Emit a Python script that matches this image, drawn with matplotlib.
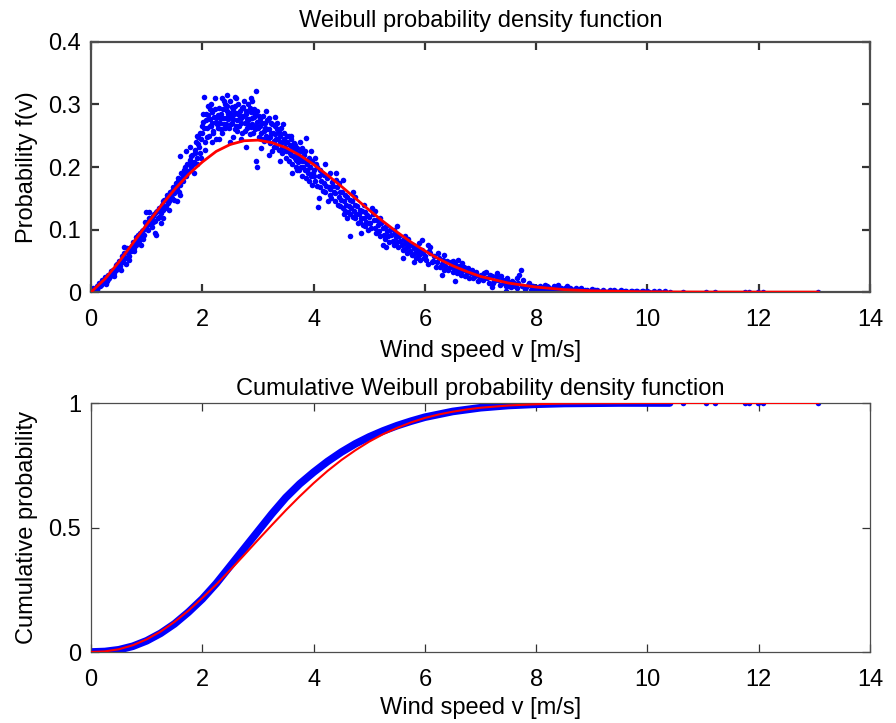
import matplotlib
matplotlib.use('Agg')
import matplotlib.pyplot as plt
import numpy as np

plt.rcParams['font.family'] = ['Liberation Sans', 'DejaVu Sans']

pts_0_1 = [(0.02, 0.001), (0.05, 0.004), (0.08, 0.003), (0.10, 0.009), (0.13, 0.008), (0.15, 0.014),
           (0.18, 0.011), (0.20, 0.019), (0.22, 0.015), (0.25, 0.024), (0.28, 0.018), (0.30, 0.028),
           (0.33, 0.022), (0.35, 0.033), (0.38, 0.027), (0.40, 0.036), (0.42, 0.030), (0.45, 0.043),
           (0.48, 0.038), (0.50, 0.050), (0.52, 0.042), (0.55, 0.058), (0.58, 0.048), (0.60, 0.062),
           (0.63, 0.055), (0.65, 0.070), (0.68, 0.058), (0.70, 0.071), (0.72, 0.066), (0.75, 0.080),
           (0.78, 0.071), (0.80, 0.088), (0.83, 0.078), (0.85, 0.083), (0.88, 0.095), (0.90, 0.089),
           (0.93, 0.100), (0.95, 0.092), (0.98, 0.105),
           (0.04, 0.006), (0.07, 0.002), (0.11, 0.004), (0.16, 0.009), (0.19, 0.016), (0.23, 0.020),
           (0.27, 0.013), (0.31, 0.021), (0.34, 0.026), (0.37, 0.031), (0.41, 0.025), (0.44, 0.035),
           (0.47, 0.045), (0.53, 0.036), (0.56, 0.050), (0.59, 0.056), (0.62, 0.045), (0.66, 0.063),
           (0.69, 0.052), (0.73, 0.074), (0.77, 0.065), (0.81, 0.075), (0.84, 0.092), (0.87, 0.082),
           (0.91, 0.097), (0.94, 0.085), (0.97, 0.112), (0.90, 0.075), (0.60, 0.072)]
pts_1_2 = [(1.00, 0.112), (1.02, 0.100), (1.05, 0.118), (1.07, 0.108), (1.10, 0.104), (1.12, 0.122),
           (1.15, 0.113), (1.17, 0.128), (1.20, 0.118), (1.22, 0.135), (1.25, 0.126), (1.27, 0.140),
           (1.30, 0.131), (1.32, 0.148), (1.35, 0.138), (1.37, 0.155), (1.40, 0.145), (1.42, 0.160),
           (1.45, 0.151), (1.47, 0.168), (1.50, 0.158), (1.52, 0.175), (1.55, 0.165), (1.57, 0.182),
           (1.60, 0.172), (1.62, 0.190), (1.65, 0.178), (1.67, 0.196), (1.70, 0.186), (1.72, 0.205),
           (1.75, 0.193), (1.77, 0.212), (1.80, 0.200), (1.82, 0.220), (1.85, 0.208), (1.87, 0.228),
           (1.90, 0.215), (1.92, 0.236), (1.95, 0.222), (1.97, 0.245), (0.99, 0.128), (1.17, 0.091),
           (1.15, 0.095), (1.30, 0.118), (1.59, 0.217), (1.60, 0.155), (1.70, 0.225), (1.85, 0.190),
           (1.90, 0.250), (1.05, 0.128), (1.40, 0.132), (1.78, 0.232),
           (1.03, 0.109), (1.08, 0.115), (1.11, 0.112), (1.14, 0.125), (1.19, 0.130), (1.23, 0.120),
           (1.26, 0.133), (1.29, 0.145), (1.33, 0.135), (1.36, 0.150), (1.38, 0.142), (1.43, 0.152),
           (1.46, 0.162), (1.49, 0.148), (1.53, 0.168), (1.56, 0.178), (1.58, 0.160), (1.63, 0.182),
           (1.66, 0.188), (1.69, 0.200), (1.73, 0.190), (1.76, 0.205), (1.79, 0.218), (1.83, 0.205),
           (1.86, 0.222), (1.88, 0.240), (1.91, 0.205), (1.94, 0.232), (1.96, 0.255), (1.98, 0.215),
           (1.99, 0.265), (1.93, 0.248), (1.55, 0.145), (1.25, 0.110)]
pts_2_3 = [(2.00, 0.255), (2.02, 0.272), (2.04, 0.240), (2.06, 0.285), (2.08, 0.262), (2.10, 0.298),
           (2.12, 0.250), (2.14, 0.276), (2.16, 0.265), (2.18, 0.288), (2.20, 0.258), (2.22, 0.310),
           (2.24, 0.272), (2.26, 0.280), (2.28, 0.262), (2.30, 0.295), (2.32, 0.270), (2.34, 0.285),
           (2.36, 0.255), (2.38, 0.278), (2.40, 0.300), (2.42, 0.268), (2.44, 0.290), (2.46, 0.276),
           (2.48, 0.262), (2.50, 0.305), (2.52, 0.282), (2.54, 0.270), (2.56, 0.293), (2.58, 0.260),
           (2.60, 0.286), (2.62, 0.275), (2.64, 0.300), (2.66, 0.265), (2.68, 0.290), (2.70, 0.278),
           (2.72, 0.255), (2.74, 0.296), (2.76, 0.270), (2.78, 0.285), (2.80, 0.262), (2.82, 0.300),
           (2.84, 0.276), (2.86, 0.252), (2.88, 0.288), (2.90, 0.268), (2.92, 0.280), (2.94, 0.260),
           (2.96, 0.322), (2.98, 0.272), (2.25, 0.245), (2.55, 0.248), (2.70, 0.244), (2.35, 0.310),
           (2.05, 0.228), (2.15, 0.300), (2.45, 0.315), (2.60, 0.310), (2.90, 0.305), (2.75, 0.305),
           (2.79, 0.232), (2.03, 0.312), (2.13, 0.265), (2.29, 0.283), (2.41, 0.262), (2.53, 0.296),
           (2.67, 0.282), (2.83, 0.268), (2.93, 0.292), (2.47, 0.285),
           (2.01, 0.285), (2.03, 0.262), (2.07, 0.275), (2.09, 0.248), (2.11, 0.283), (2.13, 0.292),
           (2.17, 0.271), (2.19, 0.255), (2.21, 0.280), (2.23, 0.292), (2.27, 0.268), (2.31, 0.278),
           (2.33, 0.260), (2.37, 0.292), (2.39, 0.268), (2.43, 0.279), (2.45, 0.298), (2.49, 0.287),
           (2.51, 0.268), (2.55, 0.276), (2.57, 0.284), (2.59, 0.298), (2.61, 0.265), (2.63, 0.258),
           (2.65, 0.285), (2.69, 0.270), (2.71, 0.295), (2.73, 0.282), (2.77, 0.258), (2.79, 0.290),
           (2.81, 0.276), (2.85, 0.295), (2.87, 0.264), (2.89, 0.278), (2.91, 0.255), (2.95, 0.284),
           (2.97, 0.265), (2.99, 0.290), (2.18, 0.240), (2.39, 0.305), (2.58, 0.312), (2.88, 0.310),
           (2.30, 0.245), (2.50, 0.240)]
pts_3_4 = [(3.00, 0.262), (3.02, 0.248), (3.04, 0.276), (3.06, 0.255), (3.08, 0.270), (3.10, 0.242),
           (3.12, 0.262), (3.14, 0.250), (3.16, 0.275), (3.18, 0.245), (3.20, 0.260), (3.22, 0.238),
           (3.24, 0.255), (3.26, 0.268), (3.28, 0.242), (3.30, 0.252), (3.32, 0.232), (3.34, 0.260),
           (3.36, 0.245), (3.38, 0.228), (3.40, 0.250), (3.42, 0.238), (3.44, 0.222), (3.46, 0.245),
           (3.48, 0.232), (3.50, 0.215), (3.52, 0.240), (3.54, 0.226), (3.56, 0.210), (3.58, 0.235),
           (3.60, 0.220), (3.62, 0.205), (3.64, 0.228), (3.66, 0.214), (3.68, 0.200), (3.70, 0.222),
           (3.72, 0.208), (3.74, 0.195), (3.76, 0.215), (3.78, 0.200), (3.80, 0.185), (3.82, 0.210),
           (3.84, 0.195), (3.86, 0.182), (3.88, 0.205), (3.90, 0.190), (3.92, 0.178), (3.94, 0.200),
           (3.96, 0.185), (3.98, 0.172), (2.97, 0.210), (2.99, 0.200), (3.15, 0.290), (3.30, 0.280),
           (3.45, 0.268), (3.87, 0.246), (3.60, 0.250), (3.75, 0.240), (3.05, 0.230), (3.25, 0.225),
           (3.35, 0.270), (3.55, 0.250), (3.65, 0.238), (3.85, 0.225),
           (3.01, 0.282), (3.03, 0.265), (3.07, 0.245), (3.09, 0.282), (3.11, 0.258), (3.13, 0.270),
           (3.17, 0.260), (3.19, 0.278), (3.21, 0.248), (3.23, 0.270), (3.27, 0.255), (3.29, 0.232),
           (3.31, 0.265), (3.33, 0.245), (3.37, 0.256), (3.39, 0.240), (3.41, 0.262), (3.43, 0.230),
           (3.47, 0.255), (3.49, 0.240), (3.51, 0.225), (3.53, 0.250), (3.57, 0.222), (3.59, 0.245),
           (3.61, 0.232), (3.63, 0.218), (3.67, 0.235), (3.69, 0.212), (3.71, 0.230), (3.73, 0.218),
           (3.77, 0.225), (3.79, 0.210), (3.81, 0.200), (3.83, 0.220), (3.87, 0.210), (3.89, 0.195),
           (3.91, 0.215), (3.93, 0.200), (3.97, 0.210), (3.99, 0.190), (3.62, 0.190), (3.70, 0.195),
           (3.80, 0.230), (3.95, 0.225), (3.20, 0.220), (3.40, 0.210)]
pts_4_5 = [(4.00, 0.195), (4.03, 0.178), (4.06, 0.200), (4.09, 0.185), (4.12, 0.168), (4.15, 0.190),
           (4.18, 0.175), (4.21, 0.160), (4.24, 0.182), (4.27, 0.168), (4.30, 0.155), (4.33, 0.176),
           (4.36, 0.160), (4.39, 0.145), (4.42, 0.168), (4.45, 0.152), (4.48, 0.138), (4.51, 0.160),
           (4.54, 0.145), (4.57, 0.130), (4.60, 0.152), (4.63, 0.138), (4.66, 0.125), (4.69, 0.145),
           (4.72, 0.130), (4.75, 0.118), (4.78, 0.138), (4.81, 0.125), (4.84, 0.112), (4.87, 0.130),
           (4.90, 0.118), (4.93, 0.105), (4.96, 0.124), (4.99, 0.110), (4.08, 0.136), (4.30, 0.190),
           (4.53, 0.179), (4.65, 0.089), (4.90, 0.140), (4.75, 0.152), (4.02, 0.215), (4.20, 0.205),
           (4.45, 0.175), (4.60, 0.118),
           (4.01, 0.185), (4.04, 0.205), (4.07, 0.170), (4.11, 0.195), (4.14, 0.178), (4.17, 0.162),
           (4.19, 0.188), (4.23, 0.170), (4.26, 0.185), (4.29, 0.165), (4.32, 0.150), (4.35, 0.170),
           (4.38, 0.158), (4.41, 0.180), (4.44, 0.140), (4.47, 0.160), (4.50, 0.148), (4.53, 0.135),
           (4.56, 0.155), (4.59, 0.140), (4.62, 0.128), (4.65, 0.148), (4.68, 0.135), (4.71, 0.120),
           (4.74, 0.140), (4.77, 0.125), (4.80, 0.110), (4.83, 0.132), (4.86, 0.118), (4.89, 0.108),
           (4.92, 0.128), (4.95, 0.112), (4.98, 0.100), (4.10, 0.150), (4.25, 0.145), (4.40, 0.190),
           (4.55, 0.125), (4.70, 0.160), (4.85, 0.095)]
pts_5_6 = [(5.00, 0.120), (5.04, 0.102), (5.08, 0.115), (5.12, 0.095), (5.16, 0.108), (5.20, 0.090),
           (5.24, 0.102), (5.28, 0.085), (5.32, 0.098), (5.36, 0.080), (5.40, 0.092), (5.44, 0.075),
           (5.48, 0.088), (5.52, 0.072), (5.56, 0.082), (5.60, 0.068), (5.64, 0.078), (5.68, 0.062),
           (5.72, 0.074), (5.76, 0.060), (5.80, 0.070), (5.84, 0.055), (5.88, 0.066), (5.92, 0.052),
           (5.96, 0.062), (5.20, 0.118), (5.45, 0.100), (5.70, 0.085), (5.90, 0.078), (5.60, 0.055),
           (5.30, 0.072), (5.94, 0.083), (5.10, 0.130),
           (5.02, 0.110), (5.06, 0.125), (5.10, 0.102), (5.14, 0.115), (5.18, 0.098), (5.22, 0.110),
           (5.26, 0.092), (5.30, 0.105), (5.34, 0.090), (5.38, 0.100), (5.42, 0.082), (5.46, 0.094),
           (5.50, 0.080), (5.54, 0.090), (5.58, 0.075), (5.62, 0.085), (5.66, 0.070), (5.70, 0.078),
           (5.74, 0.066), (5.78, 0.075), (5.82, 0.062), (5.86, 0.072), (5.90, 0.060), (5.94, 0.068),
           (5.98, 0.055), (5.05, 0.135), (5.25, 0.075), (5.50, 0.105), (5.65, 0.090), (5.80, 0.048)]
pts_6_7 = [(6.00, 0.058), (6.05, 0.045), (6.10, 0.062), (6.15, 0.050), (6.20, 0.040), (6.25, 0.055),
           (6.30, 0.045), (6.35, 0.035), (6.40, 0.050), (6.45, 0.040), (6.50, 0.032), (6.55, 0.045),
           (6.60, 0.035), (6.65, 0.028), (6.70, 0.040), (6.75, 0.030), (6.80, 0.022), (6.85, 0.035),
           (6.90, 0.026), (6.95, 0.018), (6.24, 0.062), (6.50, 0.050), (6.66, 0.046), (6.54, 0.017),
           (6.10, 0.072), (6.35, 0.060),
           (6.02, 0.052), (6.07, 0.065), (6.12, 0.048), (6.17, 0.058), (6.22, 0.048), (6.27, 0.040),
           (6.32, 0.052), (6.37, 0.042), (6.42, 0.035), (6.47, 0.048), (6.52, 0.038), (6.57, 0.030),
           (6.62, 0.042), (6.67, 0.034), (6.72, 0.025), (6.77, 0.038), (6.82, 0.030), (6.87, 0.022),
           (6.92, 0.032), (6.97, 0.025), (6.05, 0.075), (6.30, 0.028), (6.60, 0.052)]
pts_7_8 = [(7.00, 0.028), (7.05, 0.020), (7.10, 0.032), (7.15, 0.015), (7.20, 0.025), (7.25, 0.018),
           (7.30, 0.030), (7.35, 0.012), (7.40, 0.020), (7.45, 0.010), (7.50, 0.016), (7.55, 0.008),
           (7.60, 0.014), (7.65, 0.006), (7.70, 0.028), (7.75, 0.010), (7.80, 0.005), (7.85, 0.012),
           (7.90, 0.004), (7.95, 0.009), (7.65, 0.022), (7.72, 0.035), (7.20, 0.008), (7.45, 0.002),
           (7.02, 0.022), (7.07, 0.030), (7.12, 0.022), (7.17, 0.028), (7.22, 0.014), (7.27, 0.025),
           (7.32, 0.020), (7.37, 0.026), (7.42, 0.015), (7.47, 0.022), (7.52, 0.010), (7.57, 0.018),
           (7.62, 0.009), (7.67, 0.015), (7.77, 0.020), (7.82, 0.008), (7.87, 0.015), (7.92, 0.010),
           (7.97, 0.004)]
pts_8_up = [(8.00, 0.008), (8.10, 0.004), (8.20, 0.010), (8.30, 0.006), (8.40, 0.011), (8.50, 0.003),
            (8.60, 0.007), (8.70, 0.004), (8.80, 0.006), (8.90, 0.002), (9.00, 0.005), (9.10, 0.003),
            (9.20, 0.004), (9.30, 0.001), (9.40, 0.003), (9.50, 0.002), (9.60, 0.002), (9.70, 0.001),
            (9.80, 0.002), (9.90, 0.001), (10.00, 0.001), (10.10, 0.0005), (10.20, 0.001),
            (10.30, 0.0005), (10.40, 0.0003), (8.05, 0.002), (8.25, 0.002), (8.45, 0.007),
            (8.65, 0.001), (8.35, 0.0), (8.85, 0.0), (9.15, 0.0), (9.45, 0.0), (9.75, 0.0),
            (9.95, 0.0), (8.15, 0.012), (8.55, 0.009),
            (8.02, 0.005), (8.07, 0.009), (8.12, 0.007), (8.17, 0.004), (8.22, 0.008), (8.27, 0.005),
            (8.32, 0.009), (8.37, 0.004), (8.42, 0.006), (8.47, 0.003), (8.52, 0.006), (8.57, 0.004),
            (8.62, 0.005), (8.67, 0.003), (8.72, 0.006), (8.77, 0.002), (8.82, 0.004), (8.87, 0.003),
            (8.92, 0.004), (8.97, 0.002), (9.05, 0.003), (9.12, 0.002), (9.22, 0.002), (9.32, 0.003),
            (9.42, 0.001), (9.52, 0.003), (9.62, 0.001), (9.72, 0.002), (9.82, 0.001), (9.92, 0.002),
            (10.02, 0.0), (10.12, 0.001), (10.22, 0.0), (10.32, 0.001)]
v_tail = [10.64, 11.06, 11.21, 11.75, 11.83, 11.99, 12.08, 13.07]

# fitted Weibull curve (red)
v_fit = [0, 0.25, 0.5, 0.75, 1, 1.25, 1.5, 1.75, 2, 2.25, 2.5, 2.75, 3, 3.25, 3.5, 3.75, 4,
         4.25, 4.5, 4.75, 5, 5.25, 5.5, 5.75, 6, 6.25, 6.5, 6.75, 7, 7.5, 8, 8.5, 9, 10, 11, 12, 13.07]
pdf_fit = [0, 0.021, 0.048, 0.078, 0.108, 0.137, 0.164, 0.188, 0.208, 0.225, 0.236, 0.242, 0.243,
           0.239, 0.231, 0.219, 0.204, 0.187, 0.169, 0.150, 0.131, 0.113, 0.096, 0.080, 0.066,
           0.053, 0.042, 0.033, 0.025, 0.0145, 0.008, 0.004, 0.002, 0.0004, 0.0001, 0, 0]
cdf_fit = [0, 0.0025, 0.011, 0.027, 0.051, 0.082, 0.121, 0.166, 0.217, 0.271, 0.329, 0.389, 0.45,
           0.51, 0.569, 0.625, 0.678, 0.727, 0.771, 0.81, 0.845, 0.875, 0.9, 0.922, 0.94, 0.954,
           0.965, 0.974, 0.981, 0.99, 0.995, 0.998, 0.999, 1.0, 1.0, 1.0, 1.0]

# empirical cumulative probability (blue band)
v_emp = [0, 0.25, 0.5, 0.75, 1, 1.25, 1.5, 1.75, 2, 2.25, 2.5, 2.75, 3, 3.25, 3.5, 3.75, 4,
         4.25, 4.5, 4.75, 5, 5.25, 5.5, 5.75, 6, 6.5, 7, 7.5, 8, 8.5, 9, 9.5, 10, 10.4]
cdf_emp = [0, 0.002, 0.009, 0.023, 0.045, 0.075, 0.113, 0.16, 0.213, 0.275, 0.345, 0.415, 0.485,
           0.555, 0.62, 0.675, 0.722, 0.765, 0.803, 0.836, 0.864, 0.888, 0.909, 0.927, 0.943,
           0.966, 0.981, 0.99, 0.995, 0.998, 0.999, 1.0, 1.0, 1.0]

meas = np.array(pts_0_1 + pts_1_2 + pts_2_3 + pts_3_4 + pts_4_5 + pts_5_6 + pts_6_7 + pts_7_8 + pts_8_up)
v_meas, f_meas = meas[:, 0], meas[:, 1]

fig = plt.figure(figsize=(8.96, 7.23), dpi=100)
ax1 = fig.add_axes([0.1016, 0.596, 0.8694, 0.346])
ax2 = fig.add_axes([0.1016, 0.0982, 0.8694, 0.3444])

ax1.plot(v_meas, f_meas, 'o', color='blue', ms=4.0, mew=0, zorder=2)
ax1.plot(v_tail, np.zeros(len(v_tail)), 'o', color='blue', ms=4.0, mew=0, zorder=2)
ax1.plot(v_fit, pdf_fit, color='red', lw=2.0, zorder=3)

ax2.plot(v_emp, cdf_emp, color='blue', lw=5.5, solid_capstyle='round', zorder=2)
ax2.plot(v_tail, np.ones(len(v_tail)), 'o', color='blue', ms=4.0, mew=0, zorder=2)
ax2.plot(v_fit, cdf_fit, color='red', lw=1.5, zorder=3)


def style(ax, lw):
    ax.set_xlim(0, 14)
    ax.set_xticks(range(0, 15, 2))
    ax.set_xticklabels([str(t) for t in range(0, 15, 2)])
    ax.tick_params(direction='in', length=6, width=lw, top=True, right=True,
                   labelsize=17, colors='0.2', labelcolor='black')
    ax.tick_params(axis='x', pad=12)
    ax.tick_params(axis='y', pad=7)
    for s in ax.spines.values():
        s.set_linewidth(lw)
        s.set_color('0.3')


style(ax1, 1.6)
ax1.set_ylim(0, 0.4)
ax1.set_yticks([0, 0.1, 0.2, 0.3, 0.4])
ax1.set_yticklabels(['0', '0.1', '0.2', '0.3', '0.4'])
ax1.set_title('Weibull probability density function', fontsize=17, pad=11)
ax1.set_xlabel('Wind speed v [m/s]', fontsize=17)
ax1.set_ylabel('Probability f(v)', fontsize=17)
ax1.xaxis.set_label_coords(0.5, -0.19)
ax1.yaxis.set_label_coords(-0.068, 0.5)

style(ax2, 0.9)
ax2.set_ylim(0, 1)
ax2.set_yticks([0, 0.5, 1])
ax2.set_yticklabels(['0', '0.5', '1'])
ax2.set_title('Cumulative Weibull probability density function', fontsize=17, pad=6)
ax2.set_xlabel('Wind speed v [m/s]', fontsize=17)
ax2.set_ylabel('Cumulative probability', fontsize=17)
ax2.xaxis.set_label_coords(0.5, -0.18)
ax2.yaxis.set_label_coords(-0.068, 0.5)

fig.savefig('out.png', dpi=100)
